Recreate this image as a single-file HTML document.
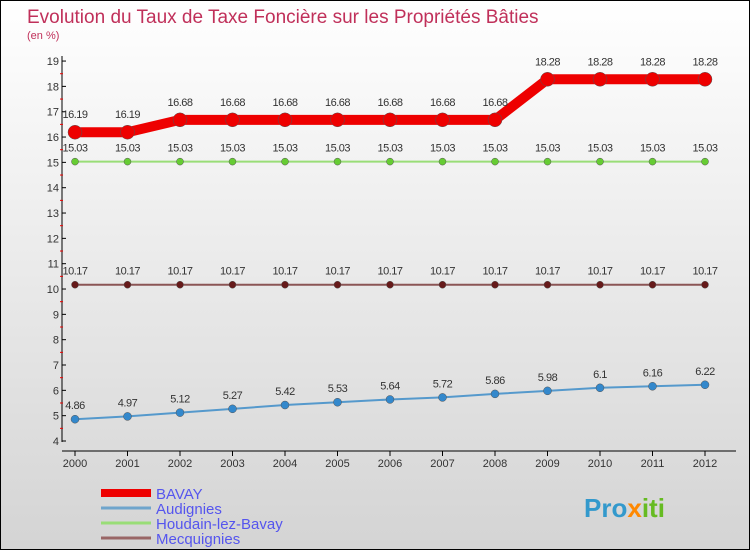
<!DOCTYPE html>
<html><head><meta charset="utf-8"><style>
body{margin:0}
#wrap{width:748px;height:548px;border:1px solid #000;background:linear-gradient(#ffffff,#d4d4d4);position:relative;font-family:"Liberation Sans",sans-serif;overflow:hidden}
svg text{font-family:"Liberation Sans",sans-serif}
</style></head><body>
<div id="wrap">
<svg id="c" width="748" height="548">
<text x="26" y="22" font-size="19" fill="#c0305a">Evolution du Taux de Taxe Foncière sur les Propriétés Bâties</text>
<text x="26" y="38" font-size="11" fill="#c0305a">(en %)</text>
<g id="axes"></g><g id="series"></g><g id="legend"></g>
<text x="583" y="516" font-size="26" font-weight="bold" fill="#3399cc">Pro<tspan fill="#ff8800">x</tspan><tspan fill="#66bb22">iti</tspan></text>
</svg></div>
<script>
const years=["2000","2001","2002","2003","2004","2005","2006","2007","2008","2009","2010","2011","2012"];
const bavay=[16.19,16.19,16.68,16.68,16.68,16.68,16.68,16.68,16.68,18.28,18.28,18.28,18.28];
const audignies=[4.86,4.97,5.12,5.27,5.42,5.53,5.64,5.72,5.86,5.98,6.1,6.16,6.22];
const houdain=[15.03,15.03,15.03,15.03,15.03,15.03,15.03,15.03,15.03,15.03,15.03,15.03,15.03];
const mecq=[10.17,10.17,10.17,10.17,10.17,10.17,10.17,10.17,10.17,10.17,10.17,10.17,10.17];
const yTicks=[4,5,6,7,8,9,10,11,12,13,14,15,16,17,18,19];
const NS="http://www.w3.org/2000/svg";
const X=i=>74+i*52.5, Y=v=>440-(v-4)*25.33;
function mk(p,t,a){const e=document.createElementNS(NS,t);for(const k in a)e.setAttribute(k,a[k]);p.appendChild(e);return e;}
const ax=document.getElementById('axes');
let e=mk(ax,'line',{x1:61,y1:55,x2:61,y2:441,stroke:'#000'});

e=mk(ax,'line',{x1:61,y1:450,x2:735,y2:450,stroke:'#000'});

yTicks.forEach(v=>{
 mk(ax,'line',{x1:61,y1:Y(v),x2:65,y2:Y(v),stroke:'#000'});
 if(v<19)mk(ax,'line',{x1:59,y1:Y(v+0.5),x2:62,y2:Y(v+0.5),stroke:'#e00'});
 const t=mk(ax,'text',{x:58,y:Y(v)+4,'font-size':11,fill:'#333','text-anchor':'end'});t.textContent=v;
 
});
years.forEach((y,i)=>{
 mk(ax,'line',{x1:X(i),y1:450,x2:X(i),y2:455,stroke:'#000'});
 const t=mk(ax,'text',{x:X(i),y:466,'font-size':11,fill:'#333','text-anchor':'middle'});t.textContent=y;
 
});
const sg=document.getElementById('series');
function series(name,data,color,w,r,dot){
 const g=mk(sg,'g',{});
 const p=mk(g,'polyline',{points:data.map((v,i)=>X(i)+','+Y(v)).join(' '),fill:'none',stroke:color,'stroke-width':w});
 
 data.forEach((v,i)=>{
  const c=mk(g,'circle',{cx:X(i),cy:Y(v),r:r,fill:dot,stroke:'#555','stroke-width':0.5});
  
  const t=mk(g,'text',{x:X(i),y:Y(v)-10-(r>5?4:0),'font-size':11,fill:'#333','text-anchor':'middle','letter-spacing':'-0.5'});t.textContent=v;
  
 });
}
series('mecquignies',mecq,'#8b5555',2,3.5,'#661a1a');
series('houdain',houdain,'#99dd77',2,3.5,'#66cc33');
series('audignies',audignies,'#5599cc',2,4,'#3388cc');
series('bavay',bavay,'#ee0000',10,7,'#ee0000');
const lg=document.getElementById('legend');
[['BAVAY','#ee0000',8],['Audignies','#6fa5cc',3],['Houdain-lez-Bavay','#99dd77',3],['Mecquignies','#996666',3]].forEach((d,i)=>{
 const y=492+i*15;
 const l=mk(lg,'line',{x1:100,y1:y,x2:150,y2:y,stroke:d[1],'stroke-width':d[2]});
 
 const t=mk(lg,'text',{x:155,y:y+6,'font-size':15,fill:'#5555ee'});t.textContent=d[0];
 
});
</script></body></html>
